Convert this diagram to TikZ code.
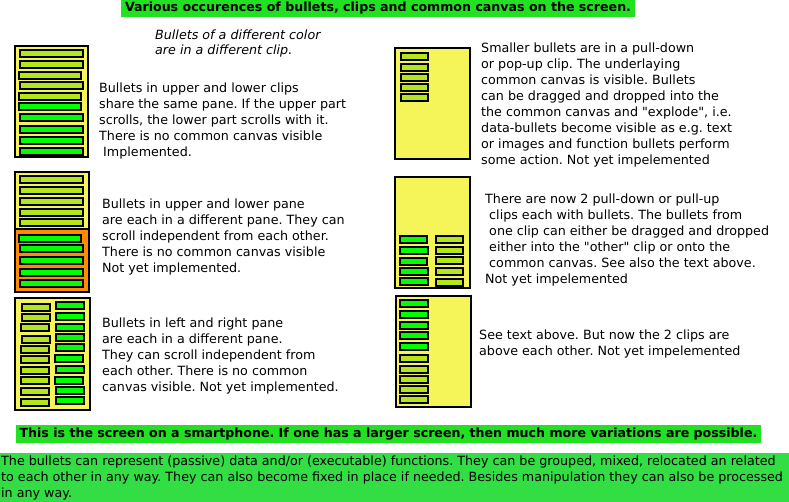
\documentclass[tikz,border=0pt]{standalone}
\usepackage{fontspec}
\setmainfont{DejaVu Sans}[Ligatures=TeXOff]
\frenchspacing

\definecolor{paneyellow}{RGB}{245,245,90}
\definecolor{datalime}{RGB}{181,230,29}
\definecolor{funcgreen}{RGB}{0,255,0}
\definecolor{paneorange}{RGB}{255,140,0}
\definecolor{titlegreen}{RGB}{34,224,34}
\definecolor{notegreen}{RGB}{51,221,68}

% one bullet: style, left x, top y, right x
\newcommand{\clipbar}[4]{\draw[#1] (#2+1.2,#3+1.2) rectangle (#4-1.2,#3+7.8);}

\begin{document}
\begin{tikzpicture}[x=1pt,y=-1pt,
    pane/.style={draw=black,line width=2pt,fill=paneyellow},
    databar/.style={draw=black,line width=2.4pt,fill=datalime},
    funcbar/.style={draw=black,line width=2.4pt,fill=funcgreen},
    note/.style={anchor=north west,inner sep=0pt,align=left,
                 font=\fontsize{12.7}{16}\selectfont},
    banner/.style={fill=titlegreen,inner xsep=4pt,inner ysep=0pt,
                   minimum height=18pt,font=\bfseries\fontsize{12.6}{15}\selectfont}]
\useasboundingbox (0,0) rectangle (789,502);

\node[banner] (title) at (378,8.5)
    {Various occurences of bullets, clips and common canvas on the screen.};
\node[note,font=\itshape\fontsize{12.7}{15}\selectfont] (colornote) at (155,29.5)
    {Bullets of a different color\\are in a different clip.};

% shared pane
\draw[pane] (15,46) rectangle (88,157);
\foreach \xa/\yt/\xb in {19/49/84,19/60/84,18/71/82,19/81/84,18/92/82}
    \clipbar{databar}{\xa}{\yt}{\xb};
\foreach \xa/\yt/\xb in {18/102/82,19/113/84,19/125/84,19/136/84,19/147/84}
    \clipbar{funcbar}{\xa}{\yt}{\xb};
\node[note] (sharedtext) at (99,82.5)
    {Bullets in upper and lower clips\\share the same pane. If the upper part\\
     scrolls, the lower part scrolls with it.\\There is no common canvas visible\\
     \ Implemented.};

% upper and lower pane
\fill[paneyellow] (15,172) rectangle (89,229);
\fill[paneorange] (15,229) rectangle (89,292);
\draw[line width=2pt] (15,172) rectangle (89,292) (15,229) -- (89,229);
\foreach \xa/\yt/\xb in {19/175/84,19/186/84,19/197/84,19/208/84,19/218/84}
    \clipbar{databar}{\xa}{\yt}{\xb};
\foreach \xa/\yt/\xb in {18/234/82,19/244/84,19/256/84,19/268/84,19/279/84}
    \clipbar{funcbar}{\xa}{\yt}{\xb};
\node[note] (splittext) at (102,198.5)
    {Bullets in upper and lower pane\\are each in a different pane. They can\\
     scroll independent from each other.\\There is no common canvas visible\\
     Not yet implemented.};

% left and right pane
\draw[pane] (15,298) rectangle (90,410);
\foreach \xa/\yt/\xb in {21/303/51,21/313/51,20/323/50,21/335/51,20/345/50,
                         20/355/50,20/366/50,20/376/50,20/387/50,20/398/50}
    \clipbar{databar}{\xa}{\yt}{\xb};
\foreach \xa/\yt/\xb in {55/301/85,55/312/85,55/323/85,55/333/85,55/343/85,
                         54/354/84,55/365/85,54/376/84,55/386/85,55/396/85}
    \clipbar{funcbar}{\xa}{\yt}{\xb};
\node[note] (sidetext) at (102,317.5)
    {Bullets in left and right pane\\are each in a different pane.\\
     They can scroll independent from\\each other. There is no common\\
     canvas visible. Not yet implemented.};

% pull-down clip
\draw[pane] (395,48) rectangle (470,159);
\foreach \yt in {52,63,73,83,93}
    \clipbar{databar}{400}{\yt}{429};
\node[note] (pulltext) at (481,42.5)
    {Smaller bullets are in a pull-down\\or pop-up clip. The underlaying\\
     common canvas is visible. Bullets\\can be dragged and dropped into the\\
     the common canvas and "explode", i.e.\\data-bullets become visible as e.g. text\\
     or images and function bullets perform\\some action. Not yet impelemented};

% two clips side by side
\draw[pane] (395,177) rectangle (470,288);
\foreach \xb/\yt in {428/235,429/246,428/257,429/267,429/277}
    \clipbar{funcbar}{399}{\yt}{\xb};
\foreach \yt in {235,246,256,267,278}
    \clipbar{databar}{435}{\yt}{464};
\node[note] (twintext) at (485,194)
    {There are now 2 pull-down or pull-up\\\ clips each with bullets. The bullets from\\
     \ one clip can either be dragged and dropped\\\ either into the "other" clip or onto the\\
     \ common canvas. See also the text above.\\Not yet impelemented};

% two clips stacked
\draw[pane] (396,296) rectangle (471,407);
\foreach \yt in {299,310,321,331,342}
    \clipbar{funcbar}{399}{\yt}{429};
\foreach \yt in {354,365,375,385,395}
    \clipbar{databar}{399}{\yt}{429};
\node[note] (stacktext) at (479,329.5)
    {See text above. But now the 2 clips are\\above each other. Not yet impelemented};

% footer
\node[banner] (phone) at (388.5,434)
    {This is the screen on a smartphone. If one has a larger screen, then much more variations are possible.};
\fill[notegreen] (0,453) rectangle (789,502);
\node[note] (footnote) at (1,455.5)
    {The bullets can represent (passive) data and/or (executable) functions. They can be grouped, mixed, relocated an related\\
     to each other in any way. They can also become fixed in place if needed. Besides manipulation they can also be processed\\
     in any way.};
\end{tikzpicture}
\end{document}
